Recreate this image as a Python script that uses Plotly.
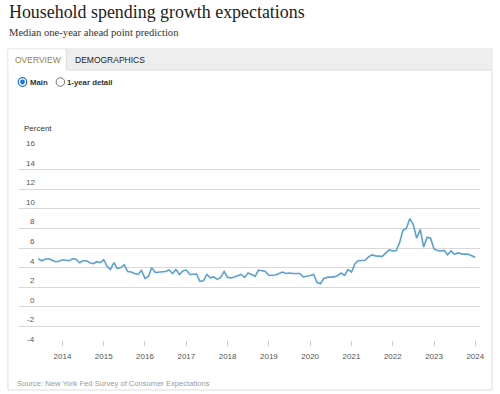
import pandas as pd
import plotly.graph_objects as go

W, H = 500, 394

# ---- data (monthly, June 2013 - Jan 2024) ----
start_month = "2013-06-01"
spending_growth = [
    4.9, 4.7, 4.85, 4.9, 4.75, 4.6, 4.65, 4.8, 4.75, 4.7, 4.9, 4.85,   # 2013-06 .. 2014-05
    4.5, 4.7, 4.7, 4.5, 4.4, 4.6, 4.5, 4.8, 4.1, 3.8, 4.5, 3.9,        # 2014-06 .. 2015-05
    4.0, 4.3, 3.6, 3.55, 3.4, 3.3, 3.7, 2.9, 3.1, 4.0, 3.5, 3.55,      # 2015-06 .. 2016-05
    3.55, 3.6, 3.75, 3.4, 3.8, 3.3, 3.65, 3.75, 3.3, 3.3, 3.35, 2.6,   # 2016-06 .. 2017-05
    2.65, 3.3, 2.95, 3.05, 2.8, 3.0, 3.6, 3.0, 2.95, 3.05, 3.15, 3.3,  # 2017-06 .. 2018-05
    3.0, 3.45, 3.3, 3.1, 3.75, 3.65, 3.6, 3.2, 3.2, 3.25, 3.4, 3.55,   # 2018-06 .. 2019-05
    3.4, 3.45, 3.4, 3.4, 3.4, 3.05, 3.1, 3.2, 3.3, 2.5, 2.35, 2.9,     # 2019-06 .. 2020-05
    3.0, 3.0, 3.05, 3.2, 3.45, 3.2, 3.8, 3.55, 4.4, 4.7, 4.7, 4.75,    # 2020-06 .. 2021-05
    5.1, 5.3, 5.2, 5.15, 5.15, 5.5, 5.8, 5.7, 5.75, 6.5, 7.8, 8.0,     # 2021-06 .. 2022-05
    9.0, 8.4, 7.0, 7.9, 6.1, 7.1, 7.0, 5.9, 5.75, 5.7, 5.75, 5.3,      # 2022-06 .. 2023-05
    5.7, 5.35, 5.5, 5.4, 5.4, 5.35, 5.2, 5.05,                         # 2023-06 .. 2024-01
]
dates = pd.date_range(start_month, periods=len(spending_growth), freq="MS")

year_ticks = [str(y) for y in range(2014, 2025)]
y_ticks = [16, 14, 12, 10, 8, 6, 4, 2, 0, -2, -4]

title_text = "Household spending growth expectations"
subtitle_text = "Median one-year ahead point prediction"
source_text = "Source: New York Fed Survey of Consumer Expectations"
tabs = ["OVERVIEW", "DEMOGRAPHICS"]
radios = ["Main", "1-year detail"]

SANS = "Liberation Sans, Arial, sans-serif"
SERIF = "Liberation Serif, Georgia, serif"


def px(x):
    return x / W


def py(y):
    return 1 - y / H


fig = go.Figure()
fig.add_trace(go.Scatter(
    x=dates, y=spending_growth, mode="lines",
    line=dict(color="#5ba0d2", width=1.6),
    hoverinfo="x+y", showlegend=False,
))

shapes = []
# outer panel
shapes.append(dict(type="rect", xref="paper", yref="paper",
                   x0=px(8), x1=px(497), y0=py(390), y1=py(49),
                   line=dict(color="#dcdcdc", width=1), fillcolor="rgba(0,0,0,0)", layer="below"))
# tab bar
shapes.append(dict(type="rect", xref="paper", yref="paper",
                   x0=px(8), x1=px(497), y0=py(70), y1=py(49),
                   line=dict(width=0), fillcolor="#eeeeee", layer="below"))
shapes.append(dict(type="line", xref="paper", yref="paper",
                   x0=px(67), x1=px(497), y0=py(70), y1=py(70),
                   line=dict(color="#dcdcdc", width=1)))
# selected tab
shapes.append(dict(type="rect", xref="paper", yref="paper",
                   x0=px(8.5), x1=px(67), y0=py(70.5), y1=py(49.5),
                   line=dict(width=0), fillcolor="#ffffff", layer="below"))
shapes.append(dict(type="line", xref="paper", yref="paper",
                   x0=px(67), x1=px(67), y0=py(70), y1=py(49),
                   line=dict(color="#dcdcdc", width=1)))


def circle(cx, cy, r, line_color, fill, lw=1):
    return dict(type="circle", xref="paper", yref="paper",
                x0=px(cx - r), x1=px(cx + r), y0=py(cy + r), y1=py(cy - r),
                line=dict(color=line_color, width=lw), fillcolor=fill)


shapes.append(circle(22.7, 82, 4.3, "#1a73e8", "#ffffff", 1.2))
shapes.append(circle(22.7, 82, 2.4, "#1a73e8", "#1a73e8", 0))
shapes.append(circle(61, 82, 4.3, "#767676", "#ffffff", 1))

annotations = []
annotations.append(dict(text=title_text, x=px(7), y=py(12), xref="paper", yref="paper",
                        xanchor="left", yanchor="middle", showarrow=False,
                        font=dict(family=SERIF, size=17.9, color="#222222")))
annotations.append(dict(text=subtitle_text, x=px(7), y=py(33), xref="paper", yref="paper",
                        xanchor="left", yanchor="middle", showarrow=False,
                        font=dict(family=SERIF, size=10.6, color="#333333")))
annotations.append(dict(text=tabs[0], x=px(38), y=py(60), xref="paper", yref="paper",
                        xanchor="center", yanchor="middle", showarrow=False,
                        font=dict(family=SANS, size=8.5, color="#9d7f3c")))
annotations.append(dict(text=tabs[1], x=px(73.5), y=py(60), xref="paper", yref="paper",
                        xanchor="left", yanchor="middle", showarrow=False,
                        font=dict(family=SANS, size=8.5, color="#222222")))
annotations.append(dict(text="<b>" + radios[0] + "</b>", x=px(28.5), y=py(82), xref="paper", yref="paper",
                        xanchor="left", yanchor="middle", showarrow=False,
                        font=dict(family=SANS, size=7.8, color="#333333")))
annotations.append(dict(text="<b>" + radios[1] + "</b>", x=px(66), y=py(82), xref="paper", yref="paper",
                        xanchor="left", yanchor="middle", showarrow=False,
                        font=dict(family=SANS, size=7.8, color="#333333")))
annotations.append(dict(text="Percent", x=px(22.5), y=py(129), xref="paper", yref="paper",
                        xanchor="left", yanchor="middle", showarrow=False,
                        font=dict(family=SANS, size=8, color="#333333")))
annotations.append(dict(text=source_text, x=px(15.5), y=py(383), xref="paper", yref="paper",
                        xanchor="left", yanchor="middle", showarrow=False,
                        font=dict(family=SANS, size=7.6, color="#9a9a9a")))
for v in y_ticks:
    annotations.append(dict(text=str(v), x=px(37.5), y=v, xref="paper", yref="y",
                            xanchor="right", yanchor="bottom", yshift=0, showarrow=False,
                            font=dict(family=SANS, size=8, color="#555555")))

fig.update_layout(
    width=W, height=H,
    margin=dict(l=0, r=0, t=0, b=0),
    paper_bgcolor="#ffffff", plot_bgcolor="#ffffff",
    shapes=shapes, annotations=annotations,
    xaxis=dict(
        domain=[px(19), px(485)],
        type="date",
        range=["2012-12-11", "2024-02-13"],
        tickvals=[f"{y}-01-01" for y in year_ticks],
        ticktext=year_ticks,
        ticks="inside", ticklen=5, tickcolor="#cccccc",
        showgrid=False, zeroline=False,
        showline=False,
        tickfont=dict(family=SANS, size=8, color="#555555"),
        ticklabelstandoff=4,
    ),
    yaxis=dict(
        domain=[py(346), py(150)],
        range=[-4, 16],
        tickvals=y_ticks,
        showticklabels=False,
        showgrid=True, gridcolor="#d9d9d9", gridwidth=1,
        zeroline=False, showline=False, ticks="",
    ),
)

fig.write_html("out.html", config={"displayModeBar": False},
               post_script="document.body.style.margin='0';")
